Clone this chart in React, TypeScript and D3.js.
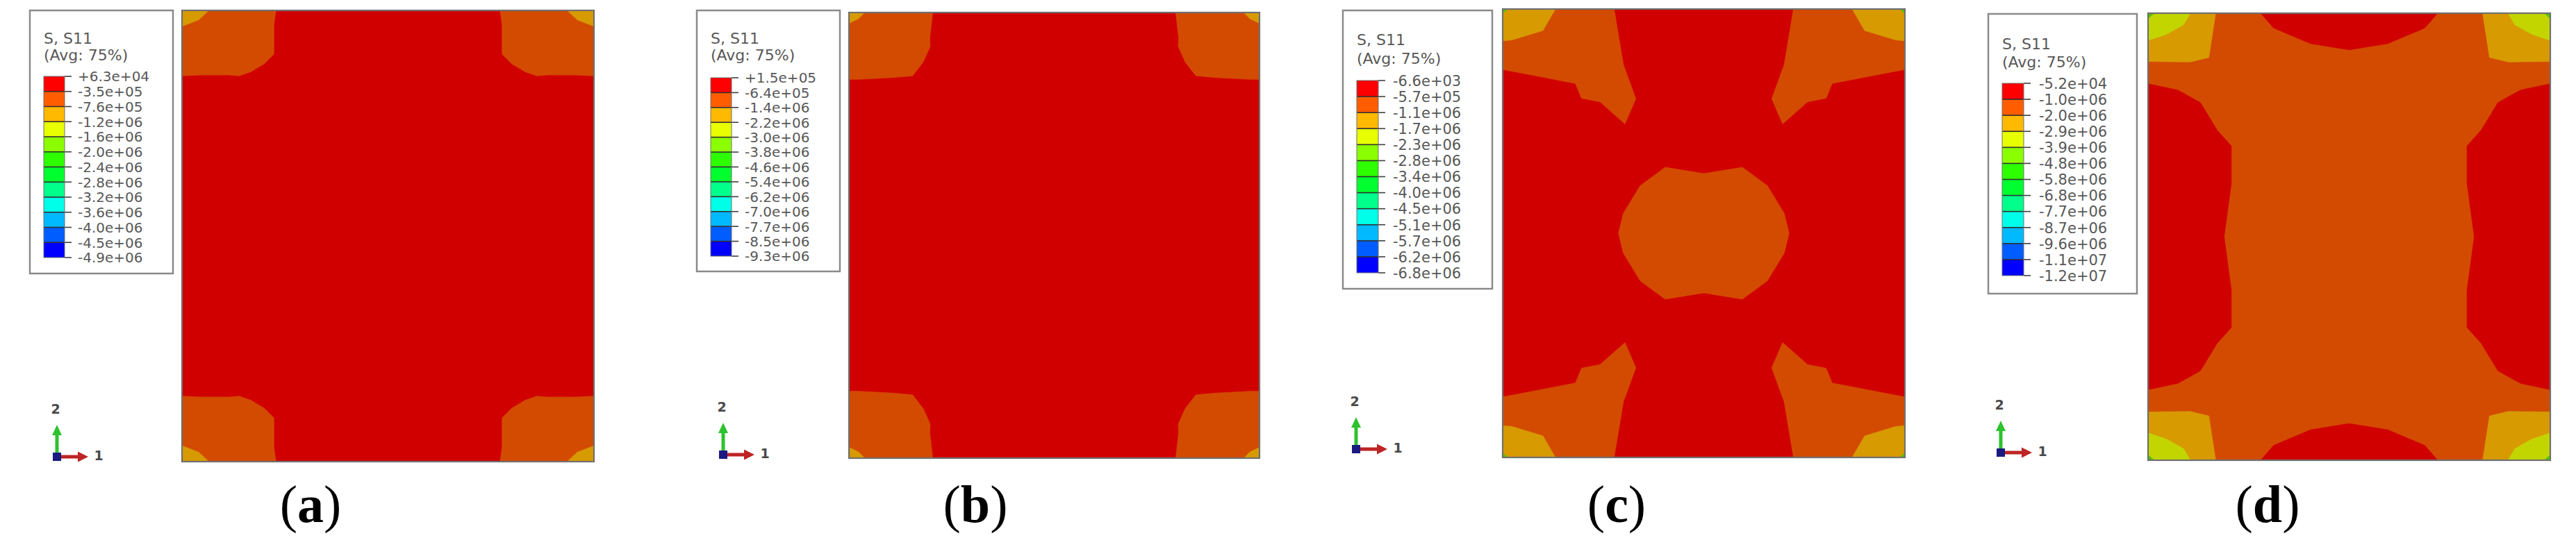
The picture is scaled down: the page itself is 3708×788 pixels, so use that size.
import React from 'react';
import * as d3 from 'd3';

const W = 3708;
const H = 788;

// ---------- data ----------
const legendTitle = ['S, S11', '(Avg: 75%)'];
const bandColors = ['#FF0000', '#FF5D00', '#FFB900', '#E7FF00', '#8BFF00', '#2EFF00', '#00FF2E', '#00FF8B', '#00FFE8', '#00B9FF', '#005DFF', '#0000FF'];
const ticksA = ['+6.3e+04', '-3.5e+05', '-7.6e+05', '-1.2e+06', '-1.6e+06', '-2.0e+06', '-2.4e+06', '-2.8e+06', '-3.2e+06', '-3.6e+06', '-4.0e+06', '-4.5e+06', '-4.9e+06'];
const ticksB = ['+1.5e+05', '-6.4e+05', '-1.4e+06', '-2.2e+06', '-3.0e+06', '-3.8e+06', '-4.6e+06', '-5.4e+06', '-6.2e+06', '-7.0e+06', '-7.7e+06', '-8.5e+06', '-9.3e+06'];
const ticksC = ['-6.6e+03', '-5.7e+05', '-1.1e+06', '-1.7e+06', '-2.3e+06', '-2.8e+06', '-3.4e+06', '-4.0e+06', '-4.5e+06', '-5.1e+06', '-5.7e+06', '-6.2e+06', '-6.8e+06'];
const ticksD = ['-5.2e+04', '-1.0e+06', '-2.0e+06', '-2.9e+06', '-3.9e+06', '-4.8e+06', '-5.8e+06', '-6.8e+06', '-7.7e+06', '-8.7e+06', '-9.6e+06', '-1.1e+07', '-1.2e+07'];
const panelLetters = ['a', 'b', 'c', 'd'];

// contour boundaries, normalized (0..1) plot coordinates, top-left quadrant
const cornerOrangeA: [number, number][] = [[0, 0], [0.228, 0], [0.223, 0.032], [0.223, 0.097], [0.2, 0.118], [0.167, 0.136], [0.138, 0.145], [0.114, 0.143], [0.044, 0.143], [0, 0.145]];
const cornerAmberA: [number, number][] = [[0, 0], [0.065, 0], [0.04, 0.021], [0, 0.035]];
const cornerOrangeB: [number, number][] = [[0, 0], [0.204, 0], [0.197, 0.056], [0.198, 0.076], [0.181, 0.111], [0.155, 0.142], [0.106, 0.146], [0.023, 0.15], [0, 0.15]];
const cornerAmberB: [number, number][] = [[0, 0], [0.038, 0], [0.023, 0.014], [0, 0.024]];
const cornerOrangeC: [number, number][] = [[0, 0], [0.277, 0], [0.3, 0.124], [0.331, 0.2], [0.304, 0.256], [0.242, 0.207], [0.196, 0.199], [0.181, 0.166], [0.031, 0.14], [0, 0.135]];
const cornerAmberC: [number, number][] = [[0, 0], [0.131, 0], [0.1, 0.048], [0.023, 0.069], [0, 0.071]];
const cornerGreenC: [number, number][] = [[0, 0], [0.012, 0], [0, 0.01]];
const blobQuarterC: [number, number][] = [[0.5, 0.367], [0.596, 0.353], [0.658, 0.394], [0.7, 0.456], [0.712, 0.5]];
const capHalfD: [number, number][] = [[0.28, 0], [0.312, 0.033], [0.404, 0.068], [0.5, 0.082]];
const lobeHalfD: [number, number][] = [[0, 0.158], [0.074, 0.172], [0.13, 0.2], [0.172, 0.262], [0.207, 0.297], [0.207, 0.38], [0.189, 0.5]];
const cornerAmberD: [number, number][] = [[0, 0], [0.168, 0], [0.151, 0.099], [0.105, 0.109], [0, 0.108]];
const cornerLimeD: [number, number][] = [[0, 0], [0.105, 0], [0.088, 0.026], [0.046, 0.047], [0, 0.061]];
const cornerGreenD: [number, number][] = [[0, 0], [0.015, 0], [0, 0.012]];

// ---------- styles ----------
const C = {
  red: '#D10000',
  orange: '#D34B00',
  amber: '#D79A00',
  lime: '#C3D500',
  green: '#4FC400',
};

type P = [number, number];
const mx = (p: P[]) => p.map(([x, y]) => [1 - x, y] as P);
const my = (p: P[]) => p.map(([x, y]) => [x, 1 - y] as P);
const fourCorners = (p: P[]) => [p, mx(p), my(p), mx(my(p))];
const closeX = (half: P[]) => [...half, ...mx(half.slice().reverse())];
const closeY = (half: P[]) => [...half, ...my(half.slice().reverse())];
const fullBlob = (q: P[]) => [
  ...q,
  ...my(q.slice().reverse()),
  ...mx(my(q)),
  ...mx(q.slice().reverse()),
];

const panels = [
  {
    rect: [262, 15, 855, 665], base: C.red,
    layers: [
      { color: C.orange, polys: fourCorners(cornerOrangeA) },
      { color: C.amber, polys: fourCorners(cornerAmberA) },
    ],
  },
  {
    rect: [1222, 18, 1813, 660], base: C.red,
    layers: [
      { color: C.orange, polys: fourCorners(cornerOrangeB) },
      { color: C.amber, polys: fourCorners(cornerAmberB) },
    ],
  },
  {
    rect: [2163, 13, 2742, 659], base: C.red,
    layers: [
      { color: C.orange, polys: [...fourCorners(cornerOrangeC), fullBlob(blobQuarterC)] },
      { color: C.amber, polys: fourCorners(cornerAmberC) },
      { color: C.green, polys: fourCorners(cornerGreenC) },
    ],
  },
  {
    rect: [3092, 19, 3671, 663], base: C.orange,
    layers: [
      { color: C.red, polys: [closeX(capHalfD), my(closeX(capHalfD)), closeY(lobeHalfD), mx(closeY(lobeHalfD))] },
      { color: C.amber, polys: fourCorners(cornerAmberD) },
      { color: C.lime, polys: fourCorners(cornerLimeD) },
      { color: C.green, polys: fourCorners(cornerGreenD) },
    ],
  },
];

const legends = [
  { box: [43, 15, 206, 379], bar: [63, 30, 110, 371], labelX: 112, t1: 63, t2: 87, fs: 20, ticks: ticksA },
  { box: [1003, 15, 206, 376], bar: [1023, 30, 112, 369], labelX: 1072, t1: 63, t2: 87, fs: 20, ticks: ticksB },
  { box: [1933, 15, 215, 401], bar: [1953, 31, 116, 393], labelX: 2005, t1: 65, t2: 92, fs: 21, ticks: ticksC },
  { box: [2862, 20, 214, 403], bar: [2882, 31, 120, 397], labelX: 2935, t1: 71, t2: 97, fs: 21, ticks: ticksD },
];

const triads = [[82, 658], [1041, 655], [1952, 647], [2880, 652]];
const labelCenters = [447, 1404, 2327, 3264];

function Plot({ panel }: { panel: any }) {
  const [x0, y0, x1, y1] = panel.rect;
  const sx = d3.scaleLinear().domain([0, 1]).range([x0, x1]);
  const sy = d3.scaleLinear().domain([0, 1]).range([y0, y1]);
  const line = d3.line<P>().x((d) => sx(d[0])).y((d) => sy(d[1]));
  return (
    <g>
      <rect x={x0} y={y0} width={x1 - x0} height={y1 - y0} fill={panel.base} />
      {panel.layers.map((l: any, i: number) => (
        <g key={i} fill={l.color} stroke={l.color} strokeWidth={0.8}>
          {l.polys.map((p: P[], j: number) => (
            <path key={j} d={line(p) + 'Z'} />
          ))}
        </g>
      ))}
      <rect x={x0} y={y0} width={x1 - x0} height={y1 - y0} fill="none" stroke="#707070" strokeWidth={2.2} />
    </g>
  );
}

function Legend({ lg }: { lg: any }) {
  const [bx, by, bw, bh] = lg.box;
  const [barX, barW, top, bottom] = lg.bar;
  const s = d3.scaleLinear().domain([0, bandColors.length]).range([top, bottom]);
  return (
    <g fontFamily="'DejaVu Sans', Verdana, sans-serif" fill="#585858">
      <rect x={bx} y={by} width={bw} height={bh} fill="#fff" stroke="#8a8a8a" strokeWidth={2.5} />
      <text x={barX} y={lg.t1} fontSize={22}>{legendTitle[0]}</text>
      <text x={barX} y={lg.t2} fontSize={22}>{legendTitle[1]}</text>
      {bandColors.map((c, i) => (
        <rect key={i} x={barX} y={s(i)} width={barW} height={s(i + 1) - s(i)} fill={c} />
      ))}
      {lg.ticks.map((t: string, i: number) => (
        <g key={t + i}>
          {i > 0 && i < lg.ticks.length - 1 && (
            <line x1={barX} x2={barX + barW} y1={s(i)} y2={s(i)} stroke="#303030" strokeWidth={1.6} />
          )}
          <line x1={barX + barW} x2={barX + barW + 10} y1={s(i)} y2={s(i)} stroke="#404040" strokeWidth={1.6} />
          <text x={lg.labelX} y={s(i) + lg.fs * 0.37} fontSize={lg.fs}>{t}</text>
        </g>
      ))}
      <rect x={barX} y={top} width={barW} height={bottom - top} fill="none" stroke="#707070" strokeWidth={1} />
    </g>
  );
}

function Triad({ ox, oy }: { ox: number; oy: number }) {
  return (
    <g>
      <rect x={ox - 2.5} y={oy - 33} width={5} height={30} fill="#2EC22E" />
      <polygon points={`${ox},${oy - 46} ${ox - 7},${oy - 31} ${ox + 7},${oy - 31}`} fill="#2EC22E" />
      <rect x={ox + 4} y={oy - 2.5} width={28} height={5} fill="#BE2424" />
      <polygon points={`${ox + 45},${oy} ${ox + 30},${oy - 7.5} ${ox + 30},${oy + 7.5}`} fill="#BE2424" />
      <rect x={ox - 6} y={oy - 6} width={12} height={12} fill="#1A1A80" />
      <text x={ox - 2} y={oy - 62} fontSize={19} fontWeight="bold" fill="#4a4a4a" textAnchor="middle" fontFamily="'DejaVu Sans', sans-serif">2</text>
      <text x={ox + 60} y={oy + 5} fontSize={19} fontWeight="bold" fill="#4a4a4a" textAnchor="middle" fontFamily="'DejaVu Sans', sans-serif">1</text>
    </g>
  );
}

export default function App() {
  return (
    <div style={{ position: 'absolute', left: 0, top: 0 }}>
      <svg width={W} height={H} style={{ display: 'block', background: '#fff' }}>
        <rect x={0} y={0} width={W} height={H} fill="#fff" />
        {panels.map((p, i) => <Plot key={i} panel={p} />)}
        {legends.map((lg, i) => <Legend key={i} lg={lg} />)}
        {triads.map(([ox, oy], i) => <Triad key={i} ox={ox} oy={oy} />)}
        {panelLetters.map((l, i) => (
          <text key={l} x={labelCenters[i]} y={752} fontSize={76} textAnchor="middle" fontFamily="'Liberation Serif', 'Times New Roman', serif" fill="#000">
            (<tspan fontWeight="bold">{l}</tspan>)
          </text>
        ))}
      </svg>
    </div>
  );
}
